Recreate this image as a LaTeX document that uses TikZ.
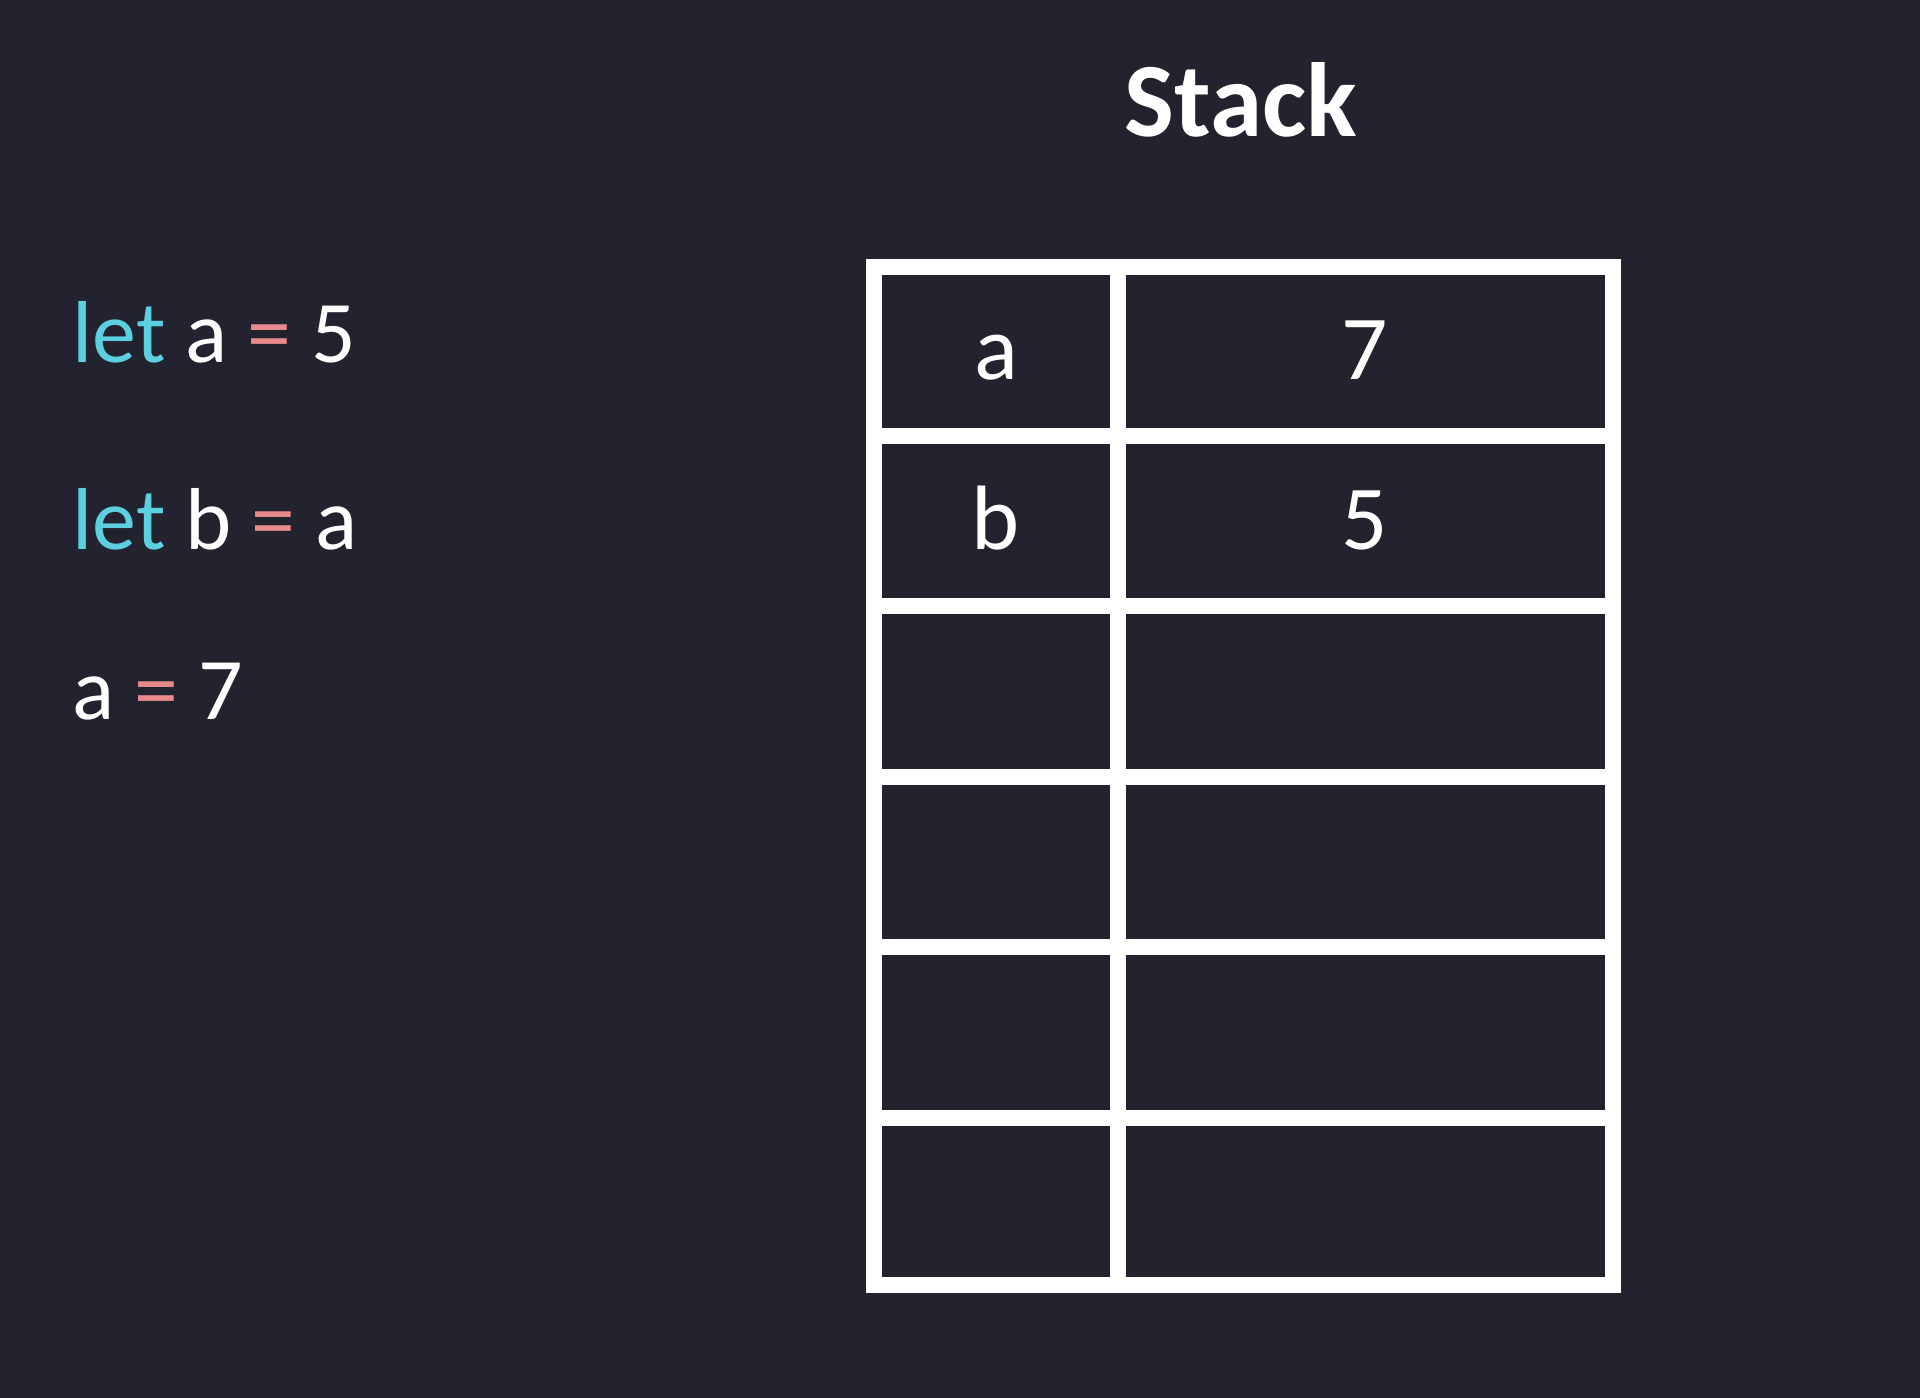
\documentclass[tikz,border=0pt]{standalone}
\usepackage{fontspec}
\setmainfont{Carlito}
\definecolor{bg}{HTML}{22232F}
\definecolor{kw}{HTML}{5CCFE0}
\definecolor{op}{HTML}{E88A8C}
\begin{document}
\begin{tikzpicture}[x=0.01cm,y=-0.01cm,
  code/.style={anchor=base west,inner sep=0pt,text=white,font=\fontsize{25}{30}\selectfont},
  cell/.style={anchor=base,inner sep=0pt,text=white,font=\fontsize{26}{31}\selectfont},
  grid/.style={draw=white,line width=4.8pt}]
\fill[bg] (0,0) rectangle (1920,1398);
\useasboundingbox (0,0) rectangle (1920,1398);
\node[inner sep=0pt,anchor=base,text=white,font=\fontsize{30}{36}\selectfont\bfseries] (title) at (1241,137) {Stack};
\node[code] (l1) at (72,363) {\textcolor{kw}{let} a \textcolor{op}{=} 5};
\node[code] (l2) at (72,550) {\textcolor{kw}{let} b \textcolor{op}{=} a};
\node[code] (l3) at (72,720) {a \textcolor{op}{=} 7};
\draw[grid] (874,267) rectangle (1613,1285);
\foreach \y in {436,606,777,947,1118} \draw[grid] (874,\y) -- (1613,\y);
\draw[grid] (1118,267) -- (1118,1285);
\node[cell] (ka) at (996,380) {a};
\node[cell] (va) at (1365,380) {7};
\node[cell] (kb) at (996,550) {b};
\node[cell] (vb) at (1365,550) {5};
\end{tikzpicture}
\end{document}
